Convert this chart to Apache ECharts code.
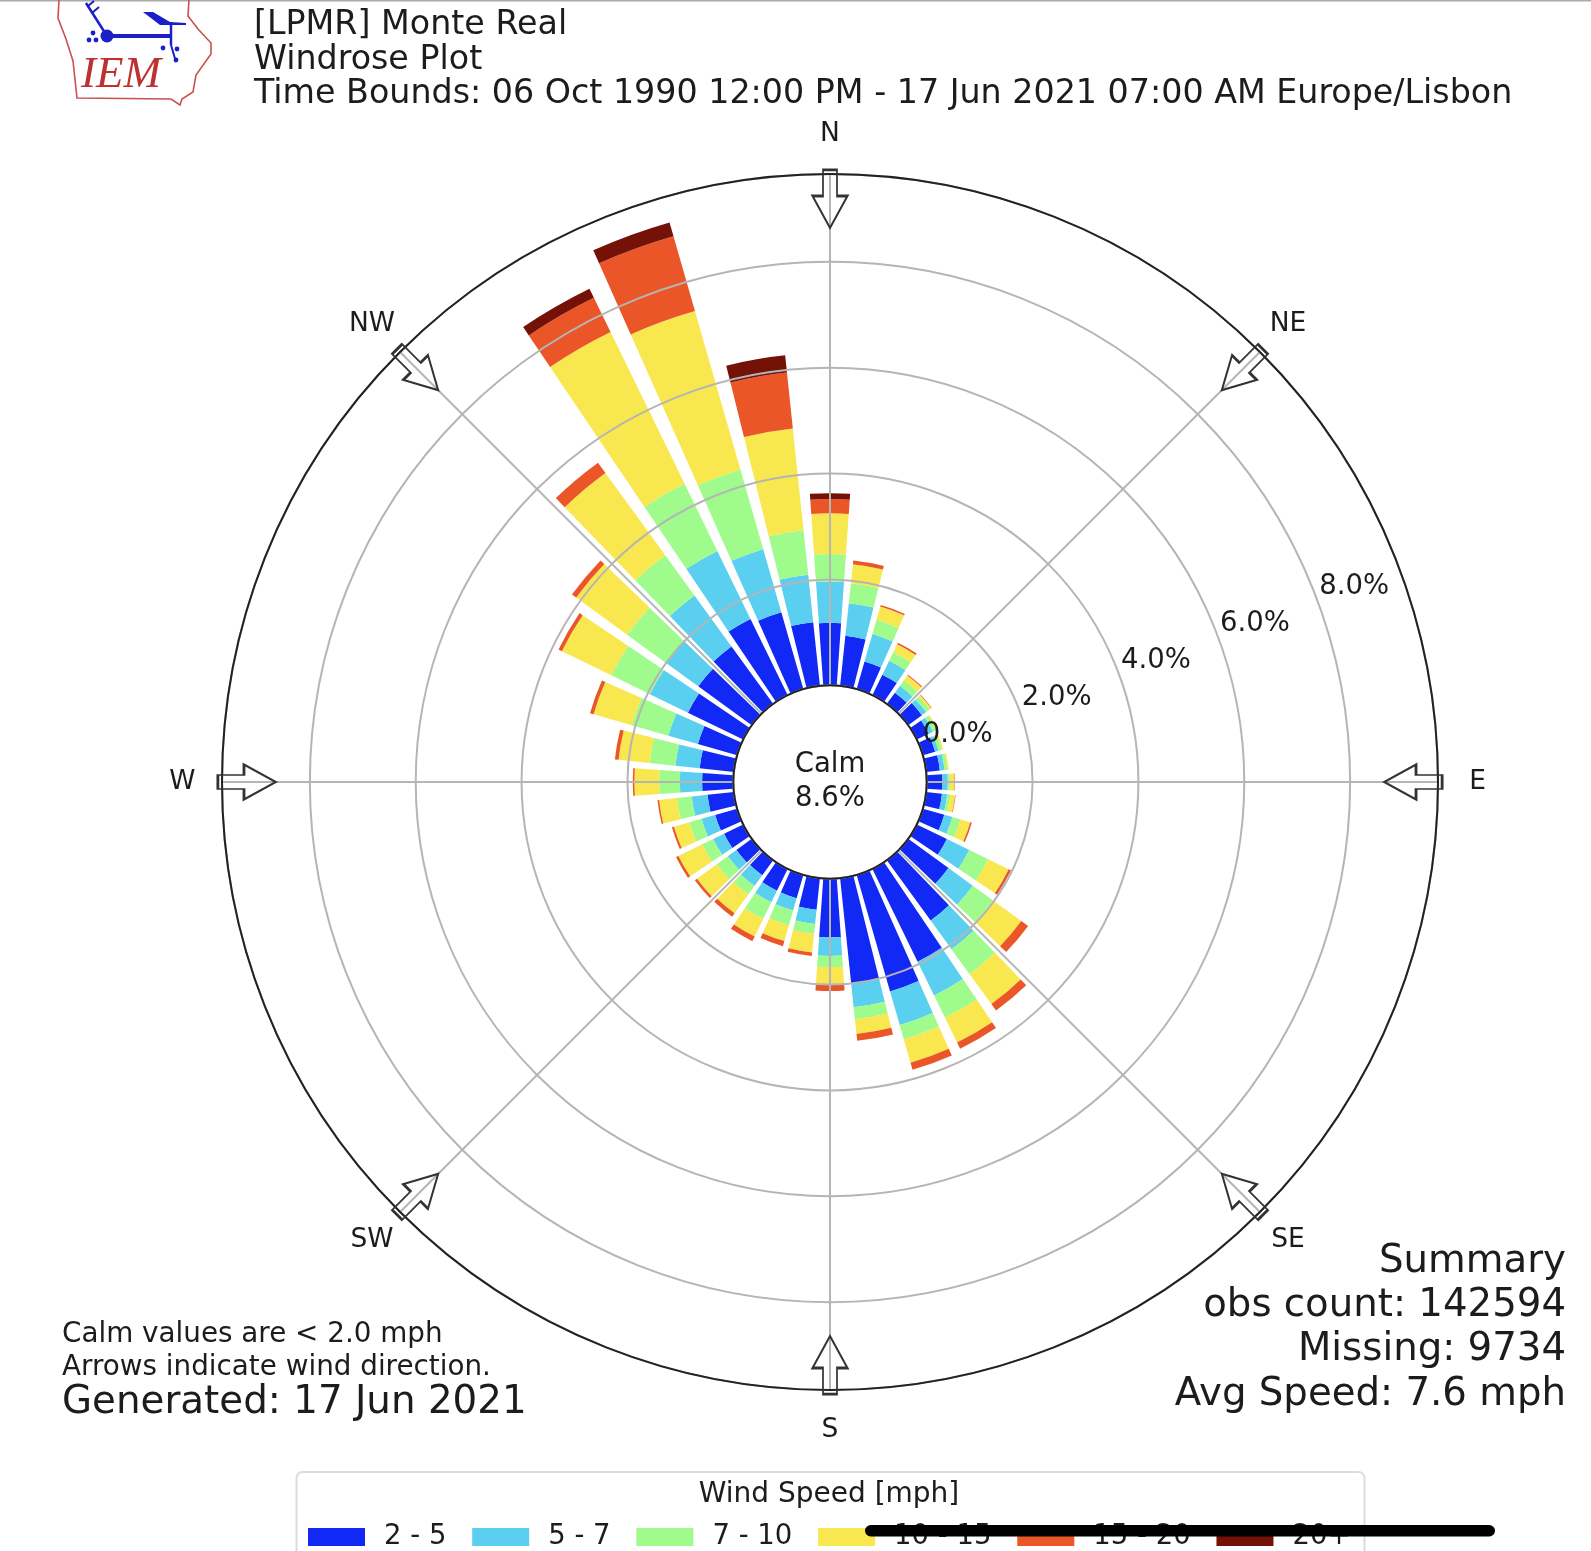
<!DOCTYPE html>
<html><head><meta charset="utf-8">
<style>html,body{margin:0;padding:0;background:#fff}#c{width:1591px;height:1551px}</style>
<script src="https://cdn.jsdelivr.net/npm/echarts@6/dist/echarts.min.js"></script></head>
<body><div id="c"></div>
<script>
// direction (deg) of every sector, clockwise from north
const directions = [0,10,20,30,40,50,60,70,80,90,100,110,120,130,140,150,160,170,180,190,200,210,220,230,240,250,260,270,280,290,300,310,320,330,340,350];
const speedBins = ['2 - 5','5 - 7','7 - 10','10 - 15','15 - 20','20+'];
const speedColors = ['#1228f5','#5bcff0','#9ffb8c','#f9e74f','#eb5628','#741208'];
// frequency (%) per bin
const bin2to5   = [1.18,.95,.54,.43,.26,.32,.25,.24,.26,.30,.30,.42,.63,.94,1.41,1.95,2.29,2.00,1.11,.60,.46,.46,.35,.36,.40,.43,.50,.59,.65,.77,1.16,1.25,1.34,1.60,1.51,1.21];
const bin5to7   = [.78,.62,.54,.29,.16,.10,.09,.07,.09,.10,.10,.16,.47,.57,.67,.71,.66,.45,.35,.27,.24,.24,.25,.20,.23,.27,.30,.42,.46,.58,.80,.76,1.19,1.43,1.24,.90];
const bin7to10  = [.52,.38,.28,.18,.13,.08,.07,.06,.05,.04,.06,.16,.40,.47,.58,.47,.28,.23,.21,.19,.29,.35,.20,.26,.23,.24,.28,.39,.49,.72,.81,.90,.94,1.41,1.56,.85];
const bin10to15 = [.77,.36,.26,.17,.11,.04,.03,.03,.03,.08,.09,.19,.43,.66,.70,.52,.46,.28,.34,.35,.31,.37,.44,.46,.50,.30,.34,.47,.59,.75,1.04,1.19,1.92,3.19,3.12,1.93];
const bin15to20 = [.27,.07,.03,.03,.02,.01,0,0,0,.01,.01,.03,.05,.16,.15,.13,.14,.13,.11,.07,.10,.10,.08,.05,.05,.04,.03,.03,.07,.07,.07,.10,.24,.72,1.47,1.06];
const bin20plus = [.11,0,0,0,0,0,0,0,0,0,0,0,0,0,0,0,0,0,0,0,0,0,0,0,0,0,0,0,0,0,0,0,0,.19,.27,.33];
const binValues = [bin2to5,bin5to7,bin7to10,bin10to15,bin15to20,bin20plus];
const radialTicks = [0,2,4,6,8];
const compassAngles = [0,45,90,135,180,225,270,315];
const compassNames = {0:'N',45:'NE',90:'E',135:'SE',180:'S',225:'SW',270:'W',315:'NW'};
const titleLines = ['[LPMR] Monte Real','Windrose Plot','Time Bounds: 06 Oct 1990 12:00 PM - 17 Jun 2021 07:00 AM Europe/Lisbon'];
const noteLines = ['Calm values are < 2.0 mph','Arrows indicate wind direction.','Generated: 17 Jun 2021'];
const summaryLines = ['Summary','obs count: 142594','Missing: 9734','Avg Speed: 7.6 mph'];

const FONT = '"DejaVu Sans"';
const CX = 830, CY = 782, R0 = 96.7, R1 = 608, RMAX = 9.66;
const ink = '#1c1c1c';
function txt(x,y,text,size,align,extra){
  return Object.assign({type:'text',x,y,z:20,silent:true,style:{text,fill:ink,font:size+'px '+FONT,textAlign:align||'left',textVerticalAlign:'middle'}},extra||{});
}
const red = '#c8524f', vane = '#1a1fc8';
const graphics = [
  {type:'rect',shape:{x:0,y:0,width:1591,height:1.5},style:{fill:'#aaa'},silent:true},
  // IEM logo
  {type:'polyline',shape:{points:[[59,0],[58,18],[66,39],[73,61],[77,98],[171,99],[180,105],[182,99],[193,92],[196,75],[211,54],[211,43],[198,29],[188,16],[189,0]]},style:{stroke:red,lineWidth:1.6,fill:null},silent:true},
  {type:'line',shape:{x1:86,y1:3,x2:107,y2:36},style:{stroke:vane,lineWidth:2.5},silent:true},
  {type:'line',shape:{x1:88,y1:6,x2:94,y2:1},style:{stroke:vane,lineWidth:2},silent:true},
  {type:'line',shape:{x1:92,y1:13,x2:99,y2:7},style:{stroke:vane,lineWidth:2},silent:true},
  {type:'line',shape:{x1:107,y1:36,x2:172,y2:36},style:{stroke:vane,lineWidth:4},silent:true},
  {type:'line',shape:{x1:171,y1:22,x2:171,y2:45},style:{stroke:vane,lineWidth:2.5},silent:true},
  {type:'line',shape:{x1:171,y1:45,x2:176,y2:62},style:{stroke:vane,lineWidth:2},silent:true},
  {type:'circle',shape:{cx:107,cy:36,r:6.5},style:{fill:vane},silent:true},
  {type:'polygon',shape:{points:[[143,12],[153,12],[170,22],[186,23],[186,25],[160,25]]},style:{fill:vane},silent:true},
  ...[[93,33],[89,40],[96,40],[163,48],[177,49],[176,60]].map(p=>({type:'circle',shape:{cx:p[0],cy:p[1],r:2.4},style:{fill:vane},silent:true})),
  {type:'text',x:81,y:75,silent:true,style:{text:'IEM',fill:'#bd3230',font:'italic 45px "Liberation Serif"',textVerticalAlign:'middle'}},
  // heading and notes
  txt(254,25,titleLines[0],33.3),txt(254,60,titleLines[1],33.3),txt(254,94,titleLines[2],33.3),
  txt(62,1335,noteLines[0],27.8),txt(62,1368,noteLines[1],27.8),txt(62,1403,noteLines[2],38.8),
  txt(1566,1262,summaryLines[0],38.7,'right'),txt(1566,1306,summaryLines[1],38.7,'right'),txt(1566,1350,summaryLines[2],38.7,'right'),txt(1566,1395,summaryLines[3],38.7,'right'),
  txt(CX,765,'Calm',27.5,'center'),txt(CX,799,'8.6%',27.5,'center'),
  // legend frame and title
  {type:'rect',z:1,silent:true,shape:{x:296.5,y:1472,width:1068,height:100,r:6},style:{fill:'#fff',stroke:'#dcdcdc',lineWidth:2}},
  txt(829,1495,'Wind Speed [mph]',28,'center'),
  // overlay bar on the bottom of the screenshot
  {type:'rect',z:30,silent:true,shape:{x:865,y:1525,width:630,height:11.5,r:5.7},style:{fill:'#000'}}
];

const barSeries = speedBins.map((name,i)=>({
  name,type:'bar',coordinateSystem:'polar',polarIndex:0,stack:'wind',barWidth:'80%',
  data:binValues[i],itemStyle:{color:speedColors[i]},silent:true,z:2
}));

const option = {
  animation:false,backgroundColor:'#fff',
  textStyle:{fontFamily:FONT},
  polar:[{center:[CX,CY],radius:[R0,R1]},{center:[CX,CY],radius:[R0,R1]}],
  angleAxis:[
    {polarIndex:0,type:'category',data:directions,startAngle:95,show:false,boundaryGap:true},
    {polarIndex:1,type:'value',min:0,max:360,interval:45,startAngle:90,z:3,
     axisLine:{show:true,lineStyle:{color:'#222',width:2}},axisTick:{show:false},
     splitLine:{show:true,lineStyle:{color:'#b5b5b5',width:2}},
     axisLabel:{show:false}}
  ],
  radiusAxis:[
    {polarIndex:0,type:'value',min:0,max:RMAX,show:false},
    {polarIndex:1,type:'value',min:0,max:RMAX,interval:2,z:3,axisLine:{show:false},axisTick:{show:false},axisLabel:{show:false},
     splitLine:{show:true,lineStyle:{color:'#b5b5b5',width:2}}}
  ],
  legend:{data:speedBins,left:308,top:1523,padding:0,itemWidth:57,itemHeight:18,itemGap:25.8,icon:'rect',z:5,
    selectedMode:false,textStyle:{fontFamily:FONT,fontSize:27.5,color:ink,padding:[0,0,0,14]}},
  series:[...barSeries,
    {type:'scatter',coordinateSystem:'polar',polarIndex:1,clip:false,silent:true,z:6,
     data:compassAngles.map(a=>[9.19,a]),
     symbol:'path://M10.5,0 L24.5,0 L24.5,27 L35,27 L17.5,60 L0,27 L10.5,27 Z',symbolSize:[35,58],
     symbolRotate:v=>-v[1],
     itemStyle:{color:'rgba(255,255,255,0)',borderColor:'#333',borderWidth:2.2,opacity:1}},
    {type:'scatter',coordinateSystem:'polar',polarIndex:1,clip:false,silent:true,z:7,
     data:radialTicks.map(t=>[t,69.5]),symbolSize:0,itemStyle:{opacity:1},
     label:{show:true,position:'inside',offset:[37,-13],color:ink,opacity:1,fontSize:27.5,fontFamily:FONT,formatter:p=>p.value[0].toFixed(1)+'%'}},
    {type:'scatter',coordinateSystem:'polar',polarIndex:1,clip:false,silent:true,z:7,
     data:compassAngles.map(a=>[10.41,a]),symbolSize:0,itemStyle:{opacity:1},
     label:{show:true,position:'inside',color:ink,opacity:1,fontSize:26.5,fontFamily:FONT,formatter:p=>compassNames[p.value[1]]}}
  ],
  graphic:graphics
};
const chart = echarts.init(document.getElementById('c'),null,{width:1591,height:1551});
chart.setOption(option);
</script></body></html>
